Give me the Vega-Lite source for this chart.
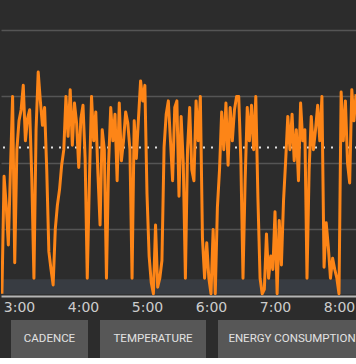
{
  "$schema": "https://vega.github.io/schema/vega-lite/v6.json",
  "background": "#2c2c2c",
  "padding": 0,
  "spacing": 24,
  "bounds": "flush",
  "config": {"view": {"stroke": null}},
  "datasets": {
    "cadence": [
      {"t":164,"rpm":1},{"t":166,"rpm":54},{"t":168,"rpm":41},{"t":170,"rpm":23},{"t":172,"rpm":57},{"t":174,"rpm":90},{"t":176,"rpm":15},{"t":178,"rpm":66},{"t":180,"rpm":79},{"t":182,"rpm":84},{"t":184,"rpm":95},{"t":186,"rpm":70},{"t":188,"rpm":80},{"t":190,"rpm":84},{"t":192,"rpm":53},{"t":194,"rpm":8},{"t":196,"rpm":75},{"t":198,"rpm":101},{"t":200,"rpm":88},{"t":202,"rpm":77},{"t":204,"rpm":85},{"t":206,"rpm":57},
      {"t":208,"rpm":20},{"t":210,"rpm":12},{"t":212,"rpm":5},{"t":214,"rpm":30},{"t":216,"rpm":41},{"t":218,"rpm":48},{"t":220,"rpm":59},
      {"t":222,"rpm":66},{"t":224,"rpm":90},{"t":226,"rpm":72},{"t":228,"rpm":93},{"t":230,"rpm":68},{"t":232,"rpm":87},{"t":234,"rpm":78},{"t":236,"rpm":58},{"t":238,"rpm":80},{"t":240,"rpm":86},{"t":242,"rpm":62},{"t":244,"rpm":8},
      {"t":246,"rpm":52},{"t":248,"rpm":90},{"t":250,"rpm":70},{"t":252,"rpm":83},{"t":254,"rpm":55},{"t":256,"rpm":32},{"t":258,"rpm":75},{"t":260,"rpm":66},{"t":262,"rpm":8},
      {"t":264,"rpm":60},{"t":266,"rpm":85},{"t":268,"rpm":70},{"t":270,"rpm":82},{"t":272,"rpm":52},{"t":274,"rpm":87},{"t":276,"rpm":61},{"t":278,"rpm":70},{"t":280,"rpm":83},{"t":282,"rpm":78},{"t":284,"rpm":66},{"t":286,"rpm":8},
      {"t":288,"rpm":79},{"t":290,"rpm":62},{"t":292,"rpm":80},{"t":294,"rpm":97},{"t":296,"rpm":88},{"t":298,"rpm":95},{"t":300,"rpm":46},{"t":302,"rpm":18},{"t":304,"rpm":6},{"t":306,"rpm":1},{"t":308,"rpm":32},{"t":310,"rpm":4},{"t":312,"rpm":8},{"t":314,"rpm":16},
      {"t":316,"rpm":67},{"t":318,"rpm":82},{"t":320,"rpm":88},{"t":322,"rpm":70},{"t":324,"rpm":52},{"t":326,"rpm":85},{"t":328,"rpm":88},{"t":330,"rpm":45},{"t":332,"rpm":81},{"t":334,"rpm":60},{"t":336,"rpm":8},{"t":338,"rpm":66},{"t":340,"rpm":85},{"t":342,"rpm":57},{"t":344,"rpm":52},{"t":346,"rpm":88},{"t":348,"rpm":70},{"t":350,"rpm":90},{"t":352,"rpm":26},
      {"t":354,"rpm":8},{"t":356,"rpm":24},{"t":358,"rpm":8},{"t":360,"rpm":1},{"t":362,"rpm":30},{"t":364,"rpm":1},{"t":366,"rpm":40},{"t":368,"rpm":57},
      {"t":370,"rpm":83},{"t":372,"rpm":66},{"t":374,"rpm":87},{"t":376,"rpm":59},{"t":378,"rpm":85},{"t":380,"rpm":70},{"t":382,"rpm":84},{"t":384,"rpm":90},{"t":386,"rpm":90},{"t":388,"rpm":61},{"t":390,"rpm":8},{"t":392,"rpm":52},{"t":394,"rpm":85},{"t":396,"rpm":70},{"t":398,"rpm":86},{"t":400,"rpm":66},{"t":402,"rpm":90},
      {"t":404,"rpm":44},{"t":406,"rpm":8},{"t":408,"rpm":1},{"t":410,"rpm":3},{"t":412,"rpm":28},{"t":414,"rpm":8},{"t":416,"rpm":18},{"t":418,"rpm":12},{"t":420,"rpm":38},{"t":422,"rpm":1},{"t":424,"rpm":34},{"t":426,"rpm":14},{"t":428,"rpm":43},{"t":430,"rpm":61},
      {"t":432,"rpm":81},{"t":434,"rpm":66},{"t":436,"rpm":82},{"t":438,"rpm":61},{"t":440,"rpm":75},{"t":442,"rpm":52},{"t":444,"rpm":87},{"t":446,"rpm":70},{"t":448,"rpm":75},{"t":450,"rpm":8},{"t":452,"rpm":57},{"t":454,"rpm":81},{"t":456,"rpm":66},{"t":458,"rpm":75},{"t":460,"rpm":86},{"t":462,"rpm":70},{"t":464,"rpm":90},{"t":466,"rpm":13},
      {"t":468,"rpm":33},{"t":470,"rpm":22},{"t":472,"rpm":8},{"t":474,"rpm":17},{"t":476,"rpm":12},{"t":478,"rpm":8},{"t":480,"rpm":1},{"t":482,"rpm":92},{"t":484,"rpm":70},{"t":486,"rpm":88},{"t":488,"rpm":60},{"t":490,"rpm":51},{"t":492,"rpm":93},{"t":494,"rpm":79},{"t":496,"rpm":91}
    ]
  },
  "vconcat": [
    {
      "width": 356,
      "height": 296,
      "layer": [
        {
          "data": {"values": [{"t0": 163.125, "t1": 496.875, "lo": 0.8, "hi": 7.6}]},
          "mark": {"type": "rect", "color": "#383c42"},
          "encoding": {
            "x": {"field": "t0", "type": "quantitative"},
            "x2": {"field": "t1"},
            "y": {"field": "lo", "type": "quantitative"},
            "y2": {"field": "hi"}
          }
        },
        {
          "data": {"values": [{"avg": 67}]},
          "mark": {"type": "rule", "color": "#e0e0e0", "strokeWidth": 2, "strokeDash": [2, 6]},
          "encoding": {"y": {"field": "avg", "type": "quantitative"}}
        },
        {
          "data": {"name": "cadence"},
          "mark": {"type": "line", "color": "#fd8517", "strokeWidth": 3, "strokeJoin": "round", "clip": true},
          "encoding": {
            "x": {
              "field": "t", "type": "quantitative",
              "scale": {"domain": [163.125, 496.875], "nice": false, "zero": false},
              "axis": {
                "values": [180, 240, 300, 360, 420, 480],
                "labelExpr": "floor(datum.value / 60) + ':00'",
                "title": null, "grid": false, "ticks": false,
                "domainColor": "#b4b4b4", "domainWidth": 2,
                "labelColor": "#cccccc", "labelFont": "DejaVu Sans", "labelFontSize": 14,
                "labelPadding": 4, "labelFlush": false, "labelOverlap": false
              }
            },
            "y": {
              "field": "rpm", "type": "quantitative",
              "scale": {"domain": [0, 133.5], "nice": false},
              "axis": {
                "values": [30, 60, 90, 120], "title": null, "labels": false, "ticks": false,
                "domain": false, "grid": true, "gridColor": "#555555", "gridWidth": 1.5
              }
            }
          }
        }
      ]
    },
    {
      "width": 356,
      "height": 38,
      "data": {"values": [
        {"label": "CADENCE", "x0": 10, "x1": 87},
        {"label": "TEMPERATURE", "x0": 99, "x1": 205},
        {"label": "ENERGY CONSUMPTION", "x0": 217, "x1": 365}
      ]},
      "transform": [{"calculate": "(datum.x0 + datum.x1) / 2", "as": "mid"}],
      "layer": [
        {
          "mark": {"type": "rect", "color": "#575757", "clip": true},
          "encoding": {
            "x": {"field": "x0", "type": "quantitative", "scale": {"domain": [0, 356], "nice": false, "zero": false}, "axis": null},
            "x2": {"field": "x1"}
          }
        },
        {
          "mark": {"type": "text", "color": "#e2e2e2", "font": "Roboto", "fontSize": 11.5, "baseline": "middle", "align": "center"},
          "encoding": {
            "x": {"field": "mid", "type": "quantitative"},
            "text": {"field": "label"}
          }
        }
      ]
    }
  ]
}
